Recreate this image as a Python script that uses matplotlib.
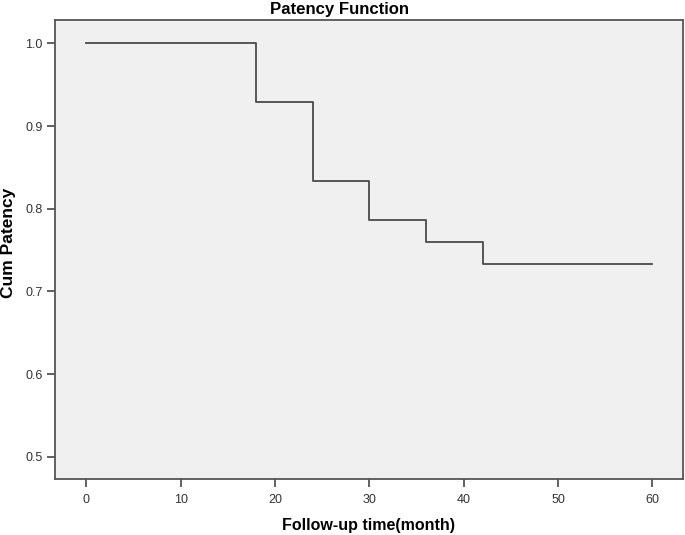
import matplotlib
matplotlib.use("Agg")
import matplotlib.pyplot as plt

# Kaplan-Meier step data (time in months, cumulative patency)
tiempos = [0, 18, 24, 30, 36, 42, 60]
patencia = [1.0, 0.929, 0.833, 0.786, 0.760, 0.733, 0.733]

xticks = [0, 10, 20, 30, 40, 50, 60]
yticks = [0.5, 0.6, 0.7, 0.8, 0.9, 1.0]

plt.rcParams['font.family'] = ['Liberation Sans', 'DejaVu Sans']

fig = plt.figure(figsize=(6.85, 5.35), dpi=100)
ax = fig.add_axes([55 / 685, 56 / 535, 628 / 685, 459 / 535])
ax.set_facecolor('#f0f0f0')

ax.step(tiempos, patencia, where='post', color='#4a4a4a', linewidth=1.3)

ax.set_xlim(-3.34, 63.25)
ax.set_ylim(0.473, 1.0284)
ax.set_xticks(xticks)
ax.set_xticklabels([str(t) for t in xticks])
ax.set_yticks(yticks)
ax.set_yticklabels(['{:.1f}'.format(v) for v in yticks])

for s in ax.spines.values():
    s.set_color('#555555')
    s.set_linewidth(1.3)
ax.tick_params(direction='out', length=5.8, width=1.3, color='#555555',
               labelsize=9, labelcolor='#333333')
ax.tick_params(axis='x', pad=5)
ax.tick_params(axis='y', pad=3)

fig.text(340 / 685, 1 - 14 / 535, 'Patency Function', ha='center', va='baseline',
         fontsize=12.1, fontweight='bold')
fig.text(369 / 685, 1 - 530 / 535, 'Follow-up time(month)', ha='center', va='baseline',
         fontsize=11.5, fontweight='bold')
fig.text(9 / 685, 1 - 243 / 535, 'Cum Patency', ha='center', va='center',
         rotation=90, fontsize=12.5, fontweight='bold')

fig.savefig('out.png', dpi=100)
